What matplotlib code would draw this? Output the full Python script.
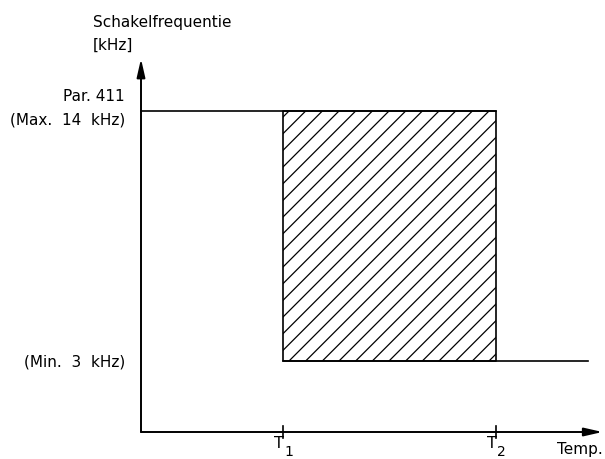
import numpy as np
import matplotlib.pyplot as plt

# switching frequency vs temperature (arbitrary time units, T1 / T2 marks)
temp_steps = [0.0, 1.0, 2.5, 3.15]      # start, T1, T2, end of line
freq_max = 14   # kHz, Par. 411
freq_min = 3    # kHz
tick_pos = [1.0, 2.5]
tick_subs = ["1", "2"]

plt.rcParams["hatch.linewidth"] = 0.9

W, H = 605, 460
fig = plt.figure(figsize=(W / 100, H / 100), dpi=100)

x_max, y_lo, y_max = 3.25, -0.12, 16.3
left, bottom = 141 / W, (H - 433) / H
ax = fig.add_axes([left, bottom, x_max * 142 / W, (y_max - y_lo) * 22.73 / H])
ax.set_xlim(0, x_max)
ax.set_ylim(y_lo, y_max)
ax.axis("off")

# axes with arrows
arrow = dict(arrowstyle="-|>,head_length=1.1,head_width=0.25", color="black", lw=1.4,
             shrinkA=0, shrinkB=0)
ax.annotate("", xy=(x_max, y_lo), xytext=(0, y_lo), arrowprops=arrow, annotation_clip=False)
ax.annotate("", xy=(0, y_max), xytext=(0, y_lo), arrowprops=arrow, annotation_clip=False)

# frequency curve
t0, t1, t2, t3 = temp_steps
ax.plot([t0, t2], [freq_max, freq_max], color="black", lw=1.2, clip_on=False)
ax.plot([t1, t3], [freq_min, freq_min], color="black", lw=1.2, clip_on=False)
ax.fill_between([t1, t2], freq_min, freq_max, facecolor="none", edgecolor="black",
                hatch="//", lw=1.2)

# ticks on time axis, T with a subscript index
for tp, sub in zip(tick_pos, tick_subs):
    ax.plot([tp, tp], [y_lo - 0.25, y_lo + 0.25], color="black", lw=1.2, clip_on=False)
    ax.annotate("T", xy=(tp, y_lo), xytext=(0.5, -2), textcoords="offset points",
                ha="right", va="top", fontsize=11.5)
    ax.annotate(sub, xy=(tp, y_lo), xytext=(1, -8.5), textcoords="offset points",
                ha="left", va="top", fontsize=10)

fs = 11
fig.text(93 / W, 1 - 22 / H, "Schakelfrequentie", ha="left", va="center", fontsize=fs)
fig.text(93 / W, 1 - 45 / H, "[kHz]", ha="left", va="center", fontsize=fs)
ax.annotate("Par. 411", xy=(0, freq_max), xytext=(-12, 11), textcoords="offset points",
            ha="right", va="center", fontsize=fs)
ax.annotate("(Max.  14  kHz)", xy=(0, freq_max), xytext=(-11, -6), textcoords="offset points",
            ha="right", va="center", fontsize=fs)
ax.annotate("(Min.  3  kHz)", xy=(0, freq_min), xytext=(-11, 0), textcoords="offset points",
            ha="right", va="center", fontsize=fs)
fig.text(603 / W, 1 - 450 / H, "Temp.", ha="right", va="center", fontsize=fs)

fig.savefig("out.png", dpi=100)
